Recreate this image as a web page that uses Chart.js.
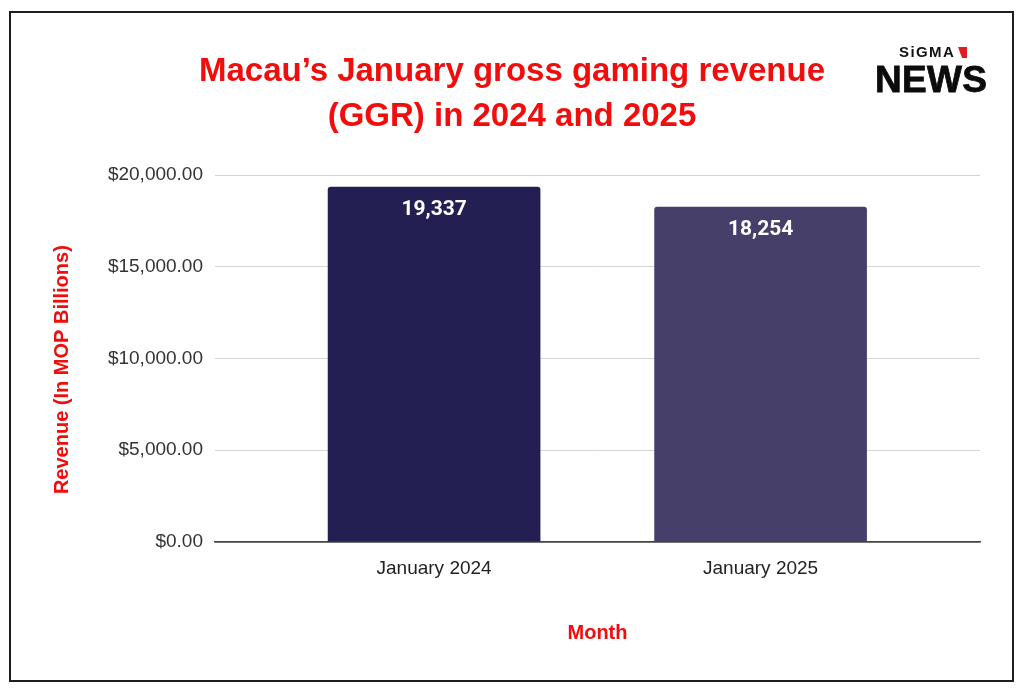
<!DOCTYPE html>
<html>
<head>
<meta charset="utf-8">
<script src="https://cdn.jsdelivr.net/npm/chart.js@4.4.1/dist/chart.umd.min.js"></script>
<style>
html,body{margin:0;padding:0;background:#fff;width:1024px;height:695px;overflow:hidden;}
#frame{position:absolute;left:9px;top:11px;width:1005px;height:671px;border:2px solid #1e1e1e;box-sizing:border-box;pointer-events:none;}
#c{position:absolute;left:0;top:0;}
.sigma{position:absolute;left:899px;top:44px;font-family:'Liberation Sans',Arial,sans-serif;font-weight:bold;font-size:15px;line-height:15px;letter-spacing:1.4px;color:#111;}
.flag{position:absolute;left:958px;top:47px;width:9px;height:11px;background:#e41b23;clip-path:polygon(0 0,100% 0,100% 100%,45% 100%);}
.news{position:absolute;left:875px;top:61px;font-family:'Liberation Sans',Arial,sans-serif;font-weight:bold;font-size:37px;line-height:37px;color:#0c0c0c;-webkit-text-stroke:0.8px #0c0c0c;letter-spacing:0.3px;}
</style>
</head>
<body>
<canvas id="c" width="1024" height="695"></canvas>
<div id="frame"></div>
<div class="sigma">SiGMA</div>
<div class="flag"></div>
<div class="news">NEWS</div>
<script>
// ---- data ----
const categories = ['January 2024', 'January 2025'];
const revenue = [19337, 18254];
const yTickValues = [0, 5000, 10000, 15000, 20000];
const barColors = ['#231f52', '#463f69'];
const titleLines = ['Macau\u2019s January gross gaming revenue', '(GGR) in 2024 and 2025'];
const xAxisTitle = 'Month';
const yAxisTitle = 'Revenue (In MOP Billions)';

const SANS = "'Liberation Sans', Arial, sans-serif";
const RED = '#f20d0d';

const dataLabels = {
  id: 'dataLabels',
  afterDatasetsDraw(chart) {
    const ctx = chart.ctx;
    const meta = chart.getDatasetMeta(0);
    ctx.save();
    ctx.fillStyle = '#ffffff';
    ctx.font = "bold 21px Roboto, 'Liberation Sans', sans-serif";
    ctx.textAlign = 'center';
    ctx.textBaseline = 'middle';
    meta.data.forEach((bar, i) => {
      ctx.fillText(revenue[i].toLocaleString('en-US'), bar.x, bar.y + 23);
    });
    ctx.restore();
  }
};

new Chart(document.getElementById('c'), {
  type: 'bar',
  data: {
    datasets: [{
      data: revenue.map((v, i) => ({ x: i, y: v })),
      backgroundColor: barColors,
      barThickness: 212,
      borderRadius: { topLeft: 3, topRight: 3, bottomLeft: 0, bottomRight: 0 },
      borderSkipped: 'start'
    }]
  },
  options: {
    responsive: false,
    animation: false,
    devicePixelRatio: 1,
    layout: { padding: { left: 44, right: 44, top: 0, bottom: 30 } },
    plugins: {
      legend: { display: false },
      tooltip: { enabled: false },
      title: {
        display: true,
        text: titleLines,
        color: RED,
        font: { family: SANS, weight: 'bold', size: 33, lineHeight: 1.364 },
        padding: { top: 49, bottom: 36 }
      }
    },
    scales: {
      x: {
        type: 'linear',
        offset: false,
        min: -0.671,
        max: 1.672,
        afterBuildTicks: s => { s.ticks = categories.map((_, i) => ({ value: i })); },
        afterFit: s => { s.height = 123; },
        grid: { display: false, drawTicks: false },
        border: { display: true, color: '#444444', width: 1.5 },
        ticks: {
          callback: v => categories[v],
          autoSkip: false,
          maxRotation: 0,
          color: '#222222',
          padding: 15,
          font: { family: SANS, size: 19 }
        },
        title: {
          display: true,
          text: xAxisTitle,
          color: RED,
          font: { family: SANS, weight: 'bold', size: 20 },
          padding: { top: 0, bottom: 20 }
        }
      },
      y: {
        min: 0,
        max: 20000,
        afterBuildTicks: s => { s.ticks = yTickValues.map(v => ({ value: v })); },
        afterFit: s => { s.width = 171; },
        grid: {
          drawTicks: false,
          color: ctx => (ctx.tick && ctx.tick.value === 0) ? '#444444' : '#d4d4d4',
          lineWidth: ctx => (ctx.tick && ctx.tick.value === 0) ? 1.5 : 1
        },
        border: { display: false },
        ticks: {
          padding: 12,
          color: '#333333',
          font: { family: SANS, size: 19 },
          callback: v => '$' + Number(v).toLocaleString('en-US', { minimumFractionDigits: 2, maximumFractionDigits: 2 })
        },
        title: {
          display: true,
          text: yAxisTitle + '    ',
          color: RED,
          font: { family: SANS, weight: 'bold', size: 20 },
          padding: { top: 6, bottom: 0 }
        }
      }
    }
  },
  plugins: [dataLabels]
});
</script>
</body>
</html>
